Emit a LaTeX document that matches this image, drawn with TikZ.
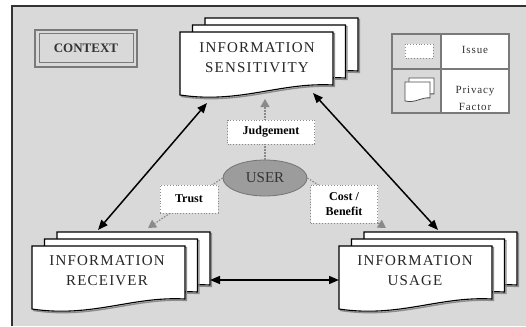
\documentclass[tikz,border=0pt]{standalone}
\usepackage{fontspec}
\setmainfont{Liberation Serif}
\usetikzlibrary{arrows.meta,shapes.geometric}
\definecolor{bg}{HTML}{D9D9D9}
\definecolor{usergrey}{HTML}{9C9C9C}
\definecolor{linegrey}{HTML}{7A7A7A}
\definecolor{dotgrey}{HTML}{8A8A8A}
\tikzset{
  pgshape/.style={insert path={(0,0) -- (153,0) -- (153,53) .. controls (100,50) and (60,72) .. (0,63) -- cycle}},
  pgshadow/.style={draw=black!45, line width=1.4pt},
  pgfront/.style={fill=white, draw=black, line width=1.1pt},
  titletext/.style={font=\fontsize{15}{20}\selectfont\addfontfeature{LetterSpace=8}, text=black!85, align=center, inner sep=0pt},
  lbl/.style={fill=white, draw=dotgrey, dotted, line width=0.9pt, font=\bfseries\fontsize{12}{15}\selectfont, align=center, inner sep=0pt},
  bigarrow/.style={line width=1.5pt, {Triangle[length=10pt,width=8pt]}-{Triangle[length=10pt,width=8pt]}},
  dotarrow/.style={draw=dotgrey, line width=1.2pt, dash pattern=on 1.5pt off 1.5pt, -{Triangle[length=8pt,width=9pt,fill=dotgrey]}},
  legendtext/.style={font=\fontsize{11}{17}\selectfont\addfontfeature{LetterSpace=8}, align=center, inner sep=0pt, text=black!80}
}
\newcommand\stackpage[2]{%
  \draw[pgshadow, shift={(#1+1.5,#2+1.5)}, pgshape];
  \draw[pgfront, shift={(#1,#2)}, pgshape];}
\newcommand\docstack[2]{\stackpage{#1+25}{#2-14}\stackpage{#1+12.5}{#2-7}\stackpage{#1}{#2}}
\begin{document}
\begin{tikzpicture}[x=1pt,y=-1pt]
\useasboundingbox (0,0) rectangle (526,326);
% frame
\fill[bg] (12,6) rectangle (526,326);
\draw[black!80, line width=2pt] (12,326) -- (12,6) -- (526,6);

% context box
\draw[linegrey, line width=1.2pt] (35,30) rectangle (137,67);
\draw[linegrey, line width=1pt] (39,34) rectangle (133,63);
\node[font=\bfseries\fontsize{13}{15}\selectfont, text=black!80] (context) at (86,48.5) {CONTEXT};

% document stacks
\docstack{180}{32}
\docstack{32}{246}
\docstack{339}{246}
\node[titletext] (sens) at (257,58) {INFORMATION\\SENSITIVITY};
\node[titletext] (recv) at (107,271) {INFORMATION\\RECEIVER};
\node[titletext] (usage) at (415,271) {INFORMATION\\USAGE};

% legend
\fill[white] (441,34) rectangle (509,113);
\draw[linegrey, line width=1.2pt] (392,34) rectangle (509,113);
\draw[linegrey, line width=1.2pt] (441,34) -- (441,113);
\draw[linegrey, line width=1.2pt] (392,69) -- (509,69);
\draw[fill=white, draw=dotgrey, dotted, line width=0.9pt] (405,44) rectangle (433,58);
\draw[draw=black!70, line width=0.8pt, fill=white, shift={(409,78)}, xscale=0.163, yscale=0.3, pgshape];
\draw[draw=black!70, line width=0.8pt, fill=white, shift={(405,82)}, xscale=0.163, yscale=0.3, pgshape];
\node[legendtext] (issue) at (475,50) {Issue};
\node[legendtext] (pf) at (475,98) {Privacy\\Factor};

% anchor points on the pages
\coordinate (sensL) at (207,103);
\coordinate (sensR) at (313,93);
\coordinate (sensB) at (265,99);
\coordinate (recvT) at (98,230);
\coordinate (recvR) at (210,280);
\coordinate (recvU) at (148,228);
\coordinate (usageT) at (438,230);
\coordinate (usageL) at (339,280);
\coordinate (usageU) at (386,228);

% user
\node[ellipse, fill=usergrey, draw=black!55, line width=0.8pt, minimum width=84pt, minimum height=36pt, inner sep=0pt, font=\fontsize{15}{15}\selectfont, text=black!80] (user) at (265,178) {USER};

% dotted influence arrows
\draw[dotarrow] (user.north) -- (sensB);
\draw[dotarrow] (user.west) -- (recvU);
\draw[dotarrow] (user.east) -- (usageU);
\node[lbl, minimum width=87pt, minimum height=24pt] (judge) at (271,132) {Judgement};
\node[lbl, minimum width=58pt, minimum height=28pt] (trust) at (189,199) {Trust};
\node[lbl, minimum width=67pt, minimum height=38pt] (cost) at (344,204) {Cost /\\Benefit};

% main arrows
\draw[bigarrow] (sensL) -- (recvT);
\draw[bigarrow] (sensR) -- (usageT);
\draw[bigarrow] (recvR) -- (usageL);
\end{tikzpicture}
\end{document}
